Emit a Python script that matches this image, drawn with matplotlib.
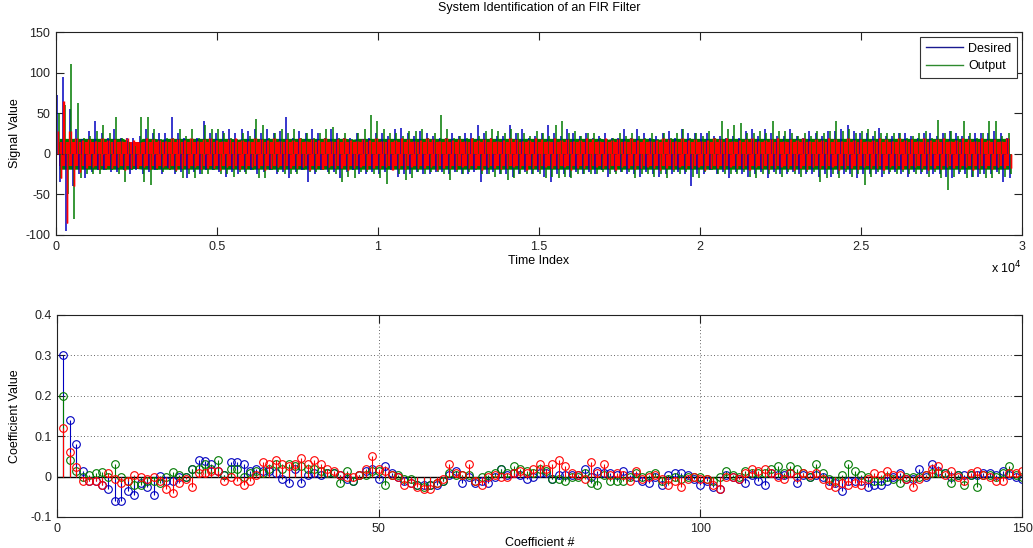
import numpy as np
import matplotlib
matplotlib.use('Agg')
import matplotlib.pyplot as plt
from matplotlib.lines import Line2D

plt.rcParams['font.family'] = ['Liberation Sans', 'DejaVu Sans']
plt.rcParams['font.size'] = 9

# ---- top plot: signal envelopes per block of 198 samples
n_samples = 29700
block = 198

desired_hi = [72, 95, 55, 30, 18, 28, 40, 25, 20, 30,
              20, 20, 20, 22, 30, 25, 25, 25, 45, 25,
              20, 18, 20, 40, 25, 25, 28, 30, 25, 30,
              28, 30, 25, 30, 25, 28, 45, 20, 28, 25,
              30, 25, 20, 30, 25, 20, 20, 25, 18, 20,
              25, 25, 22, 30, 32, 25, 22, 28, 25, 22,
              20, 20, 25, 22, 25, 25, 35, 25, 20, 22,
              22, 35, 25, 30, 20, 22, 25, 35, 25, 22,
              30, 25, 22, 25, 20, 22, 25, 20, 20, 30,
              20, 30, 25, 20, 22, 25, 28, 20, 30, 25,
              25, 25, 25, 22, 22, 20, 22, 20, 28, 30,
              22, 30, 25, 22, 22, 30, 22, 20, 28, 25,
              22, 28, 28, 30, 35, 28, 25, 25, 22, 32,
              22, 22, 25, 25, 22, 20, 25, 25, 22, 25,
              28, 25, 22, 22, 25, 25, 25, 28, 25, 20]
desired_lo = [-35, -95, -40, -25, -30, -22, -20, -20, -22, -22,
              -20, -25, -20, -25, -22, -20, -25, -18, -25, -22,
              -30, -22, -25, -20, -20, -22, -28, -22, -25, -22,
              -20, -25, -22, -20, -25, -22, -30, -22, -20, -35,
              -25, -20, -22, -22, -30, -22, -20, -25, -25, -22,
              -25, -22, -20, -28, -25, -25, -22, -25, -25, -22,
              -22, -25, -22, -25, -25, -22, -35, -25, -22, -25,
              -25, -28, -25, -22, -25, -22, -28, -35, -25, -25,
              -28, -22, -25, -22, -25, -20, -28, -22, -22, -25,
              -25, -28, -22, -25, -28, -25, -25, -22, -25, -40,
              -25, -25, -20, -25, -22, -30, -22, -25, -28, -25,
              -22, -30, -22, -25, -25, -22, -25, -25, -25, -28,
              -25, -28, -25, -25, -25, -30, -25, -25, -25, -28,
              -25, -22, -25, -28, -22, -25, -25, -25, -25, -28,
              -30, -25, -25, -28, -28, -25, -25, -22, -35, -30]
output_hi = [50, 60, 110, 62, 20, 22, 28, 35, 25, 45,
             20, 15, 10, 45, 45, 30, 18, 20, 20, 30,
             22, 30, 20, 35, 30, 30, 25, 20, 18, 25,
             22, 43, 35, 20, 25, 30, 25, 30, 20, 25,
             20, 25, 30, 33, 20, 25, 18, 25, 30, 48,
             40, 30, 25, 25, 22, 28, 28, 30, 20, 25,
             48, 30, 20, 22, 20, 20, 22, 28, 30, 28,
             25, 30, 25, 25, 22, 28, 25, 22, 35, 40,
             25, 28, 22, 25, 25, 20, 18, 20, 25, 22,
             25, 22, 20, 25, 18, 25, 20, 25, 30, 20,
             25, 22, 28, 20, 40, 30, 35, 38, 25, 25,
             28, 25, 40, 28, 28, 25, 22, 25, 22, 28,
             25, 28, 40, 28, 30, 25, 28, 30, 28, 25,
             25, 25, 25, 20, 22, 25, 28, 20, 42, 25,
             28, 22, 40, 25, 20, 25, 40, 40, 22, 25]
output_lo = [-30, -50, -80, -30, -25, -25, -25, -20, -20, -25,
             -35, -20, -18, -35, -38, -20, -22, -20, -22, -30,
             -25, -30, -25, -25, -20, -25, -25, -28, -22, -25,
             -20, -30, -30, -20, -22, -25, -25, -25, -20, -22,
             -22, -20, -25, -25, -35, -28, -30, -22, -22, -25,
             -30, -37, -20, -25, -32, -30, -22, -25, -22, -22,
             -25, -32, -22, -25, -22, -20, -25, -25, -28, -25,
             -32, -30, -25, -25, -25, -25, -30, -28, -30, -28,
             -30, -25, -25, -25, -25, -22, -25, -25, -22, -22,
             -30, -25, -25, -28, -25, -30, -22, -25, -22, -28,
             -30, -22, -20, -25, -25, -25, -25, -22, -28, -30,
             -25, -25, -25, -28, -22, -25, -28, -22, -22, -35,
             -30, -25, -30, -22, -28, -25, -38, -28, -22, -25,
             -22, -25, -22, -25, -25, -22, -28, -22, -30, -45,
             -28, -22, -30, -28, -25, -30, -30, -25, -28, -25]
error_hi = [28, 65, 28, 20, 17, 18, 16, 19, 17, 18,
            16, 20, 17, 15, 19, 18, 17, 16, 20, 18,
            17, 19, 16, 18, 20, 17, 16, 18, 19, 17,
            16, 20, 18, 17, 19, 16, 18, 17, 20, 16,
            18, 17, 19, 16, 18, 20, 17, 16, 18, 17,
            19, 16, 18, 17, 20, 18, 16, 17, 19, 18,
            16, 20, 17, 18, 16, 19, 17, 18, 20, 16,
            17, 19, 18, 16, 17, 20, 18, 16, 19, 17,
            18, 16, 17, 19, 18, 16, 20, 17, 18, 16,
            19, 17, 18, 16, 17, 20, 18, 16, 19, 17,
            18, 16, 17, 19, 18, 20, 16, 17, 18, 19,
            16, 17, 18, 20, 16, 18, 17, 19, 16, 18,
            17, 20, 18, 16, 19, 17, 18, 16, 17, 19,
            18, 16, 20, 17, 18, 16, 19, 17, 18, 20,
            16, 17, 19, 18, 16, 20, 17, 18, 16, 19]
error_lo = [-30, -85, -40, -22, -18, -16, -19, -17, -18, -16,
            -20, -17, -18, -16, -19, -17, -16, -18, -20, -17,
            -18, -16, -19, -17, -18, -20, -16, -17, -19, -18,
            -16, -17, -20, -18, -16, -19, -17, -18, -16, -20,
            -17, -19, -16, -18, -17, -20, -18, -16, -19, -17,
            -18, -16, -20, -17, -19, -16, -18, -17, -16, -20,
            -18, -17, -19, -16, -18, -17, -20, -16, -18, -19,
            -17, -16, -18, -20, -17, -19, -16, -18, -17, -16,
            -20, -18, -17, -19, -16, -18, -17, -20, -16, -18,
            -19, -17, -16, -18, -20, -17, -19, -16, -18, -17,
            -16, -20, -18, -17, -19, -16, -18, -17, -20, -16,
            -18, -19, -17, -16, -18, -20, -17, -19, -16, -18,
            -17, -16, -20, -18, -17, -19, -16, -18, -17, -20,
            -16, -18, -19, -17, -16, -18, -20, -17, -19, -16,
            -18, -17, -16, -20, -18, -17, -19, -16, -18, -17]

# ---- bottom plot: 150 filter coefficients, three series (blue, green, red)
coef_b = [0.30, 0.14, 0.08, 0.015, -0.01, -0.01, -0.02, -0.03, -0.06, -0.06,
          -0.035, -0.045, -0.015, -0.025, -0.045, 0.002, -0.01, -0.01, 0.0, 0.0,
          0.02, 0.04, 0.038, 0.03, 0.015, 0.005, 0.035, 0.035, 0.03, 0.015,
          0.02, 0.015, 0.015, 0.01, -0.005, -0.015, 0.02, -0.015, 0.005, 0.01,
          0.005, 0.01, 0.01, 0.005, -0.005, -0.01, 0.005, 0.015, 0.02, -0.005,
          0.025, 0.01, 0.0, -0.01, -0.015, -0.02, -0.02, -0.02, -0.02, -0.01,
          0.005, 0.015, -0.015, 0.0, -0.015, -0.01, -0.015, 0.0, 0.02, 0.005,
          0.01, 0.005, -0.005, 0.0, 0.01, 0.01, -0.005, 0.005, 0.005, 0.005,
          0.005, 0.02, 0.0, 0.015, 0.01, 0.01, 0.005, 0.015, 0.005, 0.0,
          -0.01, -0.015, 0.0, -0.02, 0.005, 0.01, 0.01, 0.005, -0.005, -0.02,
          -0.01, -0.025, -0.03, 0.005, 0.0, -0.005, -0.015, 0.005, -0.01, -0.02,
          0.01, 0.005, 0.005, 0.01, -0.015, 0.005, 0.0, 0.005, 0.0, -0.01,
          -0.015, -0.035, -0.01, -0.01, -0.01, -0.025, -0.02, -0.02, -0.01, 0.0,
          0.01, -0.005, -0.005, 0.02, 0.0, 0.03, 0.015, 0.01, 0.0, 0.005,
          0.005, 0.005, 0.005, 0.01, 0.01, 0.005, 0.015, 0.005, 0.0, -0.005]
coef_g = [0.20, 0.04, 0.015, 0.0, 0.005, 0.01, 0.012, 0.0, 0.03, 0.0,
          -0.01, -0.02, -0.02, -0.01, -0.01, -0.015, 0.0, 0.012, 0.005, 0.0,
          0.02, 0.02, 0.03, 0.02, 0.04, 0.005, 0.02, 0.02, 0.0, 0.01,
          0.015, 0.01, 0.02, 0.03, 0.02, 0.03, 0.025, 0.025, 0.02, 0.02,
          0.015, 0.01, 0.01, -0.015, 0.015, -0.01, 0.005, 0.005, 0.015, 0.015,
          -0.02, 0.005, 0.005, -0.005, -0.005, -0.02, -0.025, -0.02, -0.015, -0.01,
          0.01, 0.005, 0.005, 0.005, -0.01, 0.0, 0.005, 0.01, 0.02, 0.01,
          0.025, 0.02, 0.015, 0.01, 0.02, 0.015, -0.005, -0.005, -0.01, 0.0,
          0.0, 0.01, -0.015, -0.02, 0.005, -0.01, -0.01, -0.01, 0.0, 0.01,
          0.0, 0.005, 0.01, -0.01, -0.005, 0.0, -0.005, 0.0, 0.0, 0.0,
          -0.005, -0.01, 0.0, 0.015, 0.005, 0.0, 0.015, 0.01, 0.01, 0.01,
          0.02, 0.025, 0.01, 0.025, 0.02, 0.01, 0.0, 0.03, 0.01, -0.005,
          -0.01, 0.005, 0.03, 0.015, 0.005, 0.0, -0.01, -0.01, 0.0, -0.005,
          -0.015, 0.0, 0.0, 0.0, 0.005, 0.01, 0.01, 0.01, -0.015, 0.005,
          -0.02, 0.005, -0.025, 0.005, 0.005, 0.0, 0.01, 0.025, 0.005, 0.0]
coef_r = [0.12, 0.06, 0.023, -0.01, -0.01, -0.01, -0.02, 0.01, -0.005, -0.015,
          -0.01, 0.005, 0.0, -0.005, 0.0, -0.01, -0.03, -0.04, -0.015, -0.005,
          -0.025, 0.01, 0.01, 0.015, 0.015, -0.01, -0.002, -0.01, -0.02, -0.01,
          0.005, 0.035, 0.03, 0.04, 0.03, 0.025, 0.03, 0.045, 0.03, 0.04,
          0.03, 0.02, 0.015, 0.005, 0.0, 0.0, 0.005, 0.02, 0.05, 0.02,
          0.015, 0.005, 0.0, -0.02, -0.015, -0.025, -0.03, -0.03, -0.015, -0.005,
          0.03, 0.01, 0.005, 0.03, -0.01, -0.02, 0.0, 0.005, 0.0, 0.0,
          0.01, 0.015, 0.01, 0.02, 0.03, 0.02, 0.03, 0.04, 0.025, 0.01,
          0.005, -0.005, 0.035, 0.01, 0.03, 0.005, 0.01, 0.005, -0.01, 0.015,
          -0.005, 0.0, 0.005, -0.005, -0.02, -0.01, -0.025, -0.005, 0.0, -0.005,
          -0.005, -0.02, -0.03, 0.0, 0.0, -0.005, 0.01, 0.02, 0.015, 0.02,
          0.01, 0.0, -0.005, 0.01, 0.0, 0.01, 0.005, 0.01, -0.005, -0.02,
          -0.025, -0.015, -0.02, -0.015, -0.02, -0.005, 0.01, 0.005, 0.015, 0.005,
          0.005, -0.005, -0.025, -0.005, 0.005, 0.02, 0.025, 0.005, 0.015, 0.0,
          -0.01, 0.01, 0.015, 0.005, 0.0, -0.01, -0.01, 0.01, 0.01, 0.015]

BLUE = '#0000c0'
GREEN = '#007a00'
RED = '#ff0000'

fig = plt.figure(figsize=(10.33, 5.48), dpi=100)
ax1 = fig.add_axes([0.0542, 0.5712, 0.9352, 0.3704])
ax2 = fig.add_axes([0.0552, 0.0566, 0.9342, 0.3686])

start = np.arange(len(desired_hi)) * block
mid = start + block / 2


def spikes(ax, hi, lo, col, up, down, lw):
    # vertical strokes: one upward and one downward per block
    ax.vlines(start + up * block, 0, hi, color=col, lw=lw)
    ax.vlines(start + down * block, lo, 0, color=col, lw=lw)


# dense body of the output noise, then the spikes of both signals
ax1.fill_between(mid, np.clip(output_lo, -19, 0), np.clip(output_hi, 0, 19),
                 color=GREEN, lw=0)
spikes(ax1, desired_hi, desired_lo, BLUE, 0.15, 0.6, 1.1)
spikes(ax1, output_hi, output_lo, GREEN, 0.4, 0.85, 1.1)
# error signal on top
ax1.fill_between(mid, np.clip(error_lo, -15, 0), np.clip(error_hi, 0, 15),
                 color=RED, lw=0)
spikes(ax1, error_hi, error_lo, RED, 0.3, 0.75, 1.0)
spikes(ax1, error_lo, error_hi, RED, 0.8, 0.05, 1.0)

ax1.set_xlim(0, 30000)
ax1.set_ylim(-100, 150)
ax1.set_xticks(np.arange(0, 30001, 5000))
ax1.set_xticklabels(['0', '0.5', '1', '1.5', '2', '2.5', '3'])
ax1.set_yticks(np.arange(-100, 151, 50))
ax1.set_yticklabels(['-100', '-50', '0', '50', '100', '150'])
ax1.text(1.0, -0.162, r'x 10$^{4}$', transform=ax1.transAxes, ha='right', va='center')
ax1.text(0.5, 1.12, 'System Identification of an FIR Filter', transform=ax1.transAxes,
         ha='center', va='center')
ax1.set_xlabel('Time Index')
ax1.set_ylabel('Signal Value')
ax1.xaxis.set_label_coords(0.5, -0.098)
ax1.yaxis.set_label_coords(-0.036, 0.5)
handles = [Line2D([], [], color='#1a1a90', lw=1.0), Line2D([], [], color='#2e8a2e', lw=1.0)]
leg = ax1.legend(handles, ['Desired', 'Output'], loc='upper right', fancybox=False,
                 edgecolor='#333333', framealpha=1, handlelength=3.0,
                 borderaxespad=0.4, borderpad=0.45, labelspacing=0.45,
                 handletextpad=0.4)
leg.get_frame().set_linewidth(0.8)

# stems
idx = np.arange(1, len(coef_b) + 1)
ax2.axhline(0, color='k', lw=1.0, zorder=1.5)
for vals, col in [(coef_b, BLUE), (coef_g, GREEN), (coef_r, RED)]:
    ml, sl, bl = ax2.stem(idx, vals, linefmt='-', markerfmt='o', basefmt=' ')
    sl.set_color(col)
    sl.set_linewidth(0.8)
    ml.set_markerfacecolor('none')
    ml.set_markeredgecolor(col)
    ml.set_markersize(5.5)
    ml.set_markeredgewidth(0.8)

ax2.set_xlim(0, 150)
ax2.set_ylim(-0.1, 0.4)
ax2.set_xticks([0, 50, 100, 150])
ax2.set_yticks(np.arange(-0.1, 0.41, 0.1))
ax2.set_yticklabels(['-0.1', '0', '0.1', '0.2', '0.3', '0.4'])
ax2.grid(True, linestyle=(0, (1, 3)), color='#333333', lw=0.6)
ax2.set_axisbelow(True)
ax2.set_xlabel('Coefficient #')
ax2.set_ylabel('Coefficient Value')
ax2.xaxis.set_label_coords(0.5, -0.097)
ax2.yaxis.set_label_coords(-0.0373, 0.5)

for ax in (ax1, ax2):
    for sp in ax.spines.values():
        sp.set_color('#222222')
        sp.set_linewidth(0.8)
    ax.tick_params(direction='in', length=5.5, width=0.8, top=True, right=True,
                   pad=4, colors='#222222', labelcolor='#222222')

fig.savefig('out.png', dpi=100)
